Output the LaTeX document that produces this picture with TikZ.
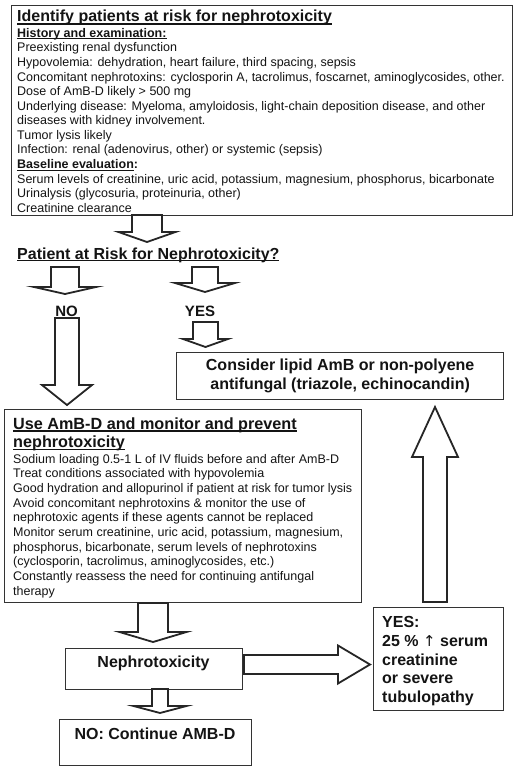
\documentclass[tikz,border=0pt]{standalone}
\usepackage{fontspec}
\setmainfont{Liberation Sans}
\newfontfamily\arrfont{DejaVu Sans}
\newcommand{\ulx}[3]{\setbox0=\hbox{#3}\rlap{\rule[-#1]{\wd0}{#2}}\box0}
\newcommand{\varrow}[6]{\draw[blk] (#1-#5,#2) -- (#1+#5,#2) -- (#1+#5,#3) -- (#1+#6,#3) -- (#1,#4) -- (#1-#6,#3) -- (#1-#5,#3) -- cycle;}
\newcommand{\harrow}[6]{\draw[blk] (#2,#1-#5) -- (#2,#1+#5) -- (#3,#1+#5) -- (#3,#1+#6) -- (#4,#1) -- (#3,#1-#6) -- (#3,#1-#5) -- cycle;}
\begin{document}
\begin{tikzpicture}[x=1pt,y=-1pt,
  boxed/.style={draw=black!80, line width=1.3pt, inner sep=0pt, anchor=north west},
  blk/.style={draw=black!85, line width=1.8pt, fill=white, line join=miter},
  txt/.style={inner sep=0pt, align=left, text=black!92},
  bodyf/.style={font=\fontsize{12.5}{14.58}\selectfont},
  bigf/.style={font=\bfseries\fontsize{16}{18.6}\selectfont}]
\fill[white] (0,0) rectangle (520,770);
\useasboundingbox (0,0) rectangle (520,770);

% top box
\node[boxed, minimum width=501pt, minimum height=210pt] (top) at (11,5) {};
\node[txt, anchor=base west, bigf] (toptitle) at (17,22) {\ulx{2.6pt}{1.3pt}{Identify patients at risk for nephrotoxicity}};
\node[txt, anchor=north west, bodyf] (topbody) at (17,28.1) {%
\textbf{\ulx{2pt}{1pt}{History and examination:}}\\
Preexisting renal dysfunction\\
Hypovolemia: dehydration, heart failure, third spacing, sepsis\\
Concomitant nephrotoxins: cyclosporin A, tacrolimus, foscarnet, aminoglycosides, other.\\
Dose of AmB-D likely {>} 500 mg\\
Underlying disease: Myeloma, amyloidosis, light-chain deposition disease, and other\\
diseases with kidney involvement.\\
Tumor lysis likely\\
Infection: renal (adenovirus, other) or systemic (sepsis)\\
\textbf{\ulx{2pt}{1pt}{Baseline evaluation}:}\\
Serum levels of creatinine, uric acid, potassium, magnesium, phosphorus, bicarbonate\\
Urinalysis (glycosuria, proteinuria, other)\\
Creatinine clearance};

% question
\node[txt, anchor=base west, bigf] (risk) at (17,259) {\ulx{2.4pt}{1.2pt}{Patient at Risk for Nephrotoxicity?}};
\varrow{147}{215}{232}{242}{15}{28.5}

\varrow{65}{267}{287}{294}{14}{31}
\varrow{205}{267}{283}{292}{13}{30}
\node[txt, anchor=base, font=\bfseries\fontsize{15}{18}\selectfont] (no) at (66.5,316) {NO};
\node[txt, anchor=base, font=\bfseries\fontsize{15}{18}\selectfont] (yes) at (200,316) {YES};

\varrow{205.5}{322}{339}{347}{12.5}{22.5}
\node[boxed, minimum width=327pt, minimum height=47pt, align=center, bigf, text=black!92] (lipid) at (176,352) {Consider lipid AmB or non-polyene\\antifungal (triazole, echinocandin)};

\varrow{67}{318}{385}{405}{12}{25}

% use box
\node[boxed, minimum width=357pt, minimum height=193pt] (use) at (4,409) {};
\node[txt, anchor=north west, font=\bfseries\fontsize{16.2}{18.5}\selectfont] (usetitle) at (13,417.2) {\ulx{2.4pt}{1.2pt}{Use AmB-D and monitor and prevent}\\\ulx{2.4pt}{1.2pt}{nephrotoxicity}};
\node[txt, anchor=north west, font=\fontsize{12.5}{14.67}\selectfont] (usebody) at (13,454) {%
Sodium loading 0.5-1 L of IV fluids before and after AmB-D\\
Treat conditions associated with hypovolemia\\
Good hydration and allopurinol if patient at risk for tumor lysis\\
Avoid concomitant nephrotoxins \& monitor the use of\\
nephrotoxic agents if these agents cannot be replaced\\
Monitor serum creatinine, uric acid, potassium, magnesium,\\
phosphorus, bicarbonate, serum levels of nephrotoxins\\
(cyclosporin, tacrolimus, aminoglycosides, etc.)\\
Constantly reassess the need for continuing antifungal\\
therapy};

% up arrow
\varrow{435}{602}{457}{407}{12}{23}

% yes box
\node[boxed, minimum width=130pt, minimum height=103pt] (yesbox) at (373,607) {};
\node[txt, anchor=north west, font=\bfseries\fontsize{16}{18.7}\selectfont] (yestext) at (382,616.5) {YES:\\25 \% {\arrfont\mdseries\fontsize{15}{18.7}\selectfont ↑} serum\\creatinine\\or severe\\tubulopathy};

% nephrotoxicity
\varrow{153}{603}{632}{642}{15}{33.5}
\node[boxed, minimum width=177pt, minimum height=41pt] (nephro) at (65,648) {};
\node[txt, anchor=base, bigf] (nephrotext) at (153.5,667) {Nephrotoxicity};
\harrow{664.5}{244}{338}{370}{9.5}{19}
\varrow{160}{689}{706}{713}{8}{26.5}

\node[boxed, minimum width=192pt, minimum height=46pt] (cont) at (59,719) {};
\node[txt, anchor=base, bigf] (conttext) at (155,739) {NO: Continue AMB-D};
\end{tikzpicture}
\end{document}
